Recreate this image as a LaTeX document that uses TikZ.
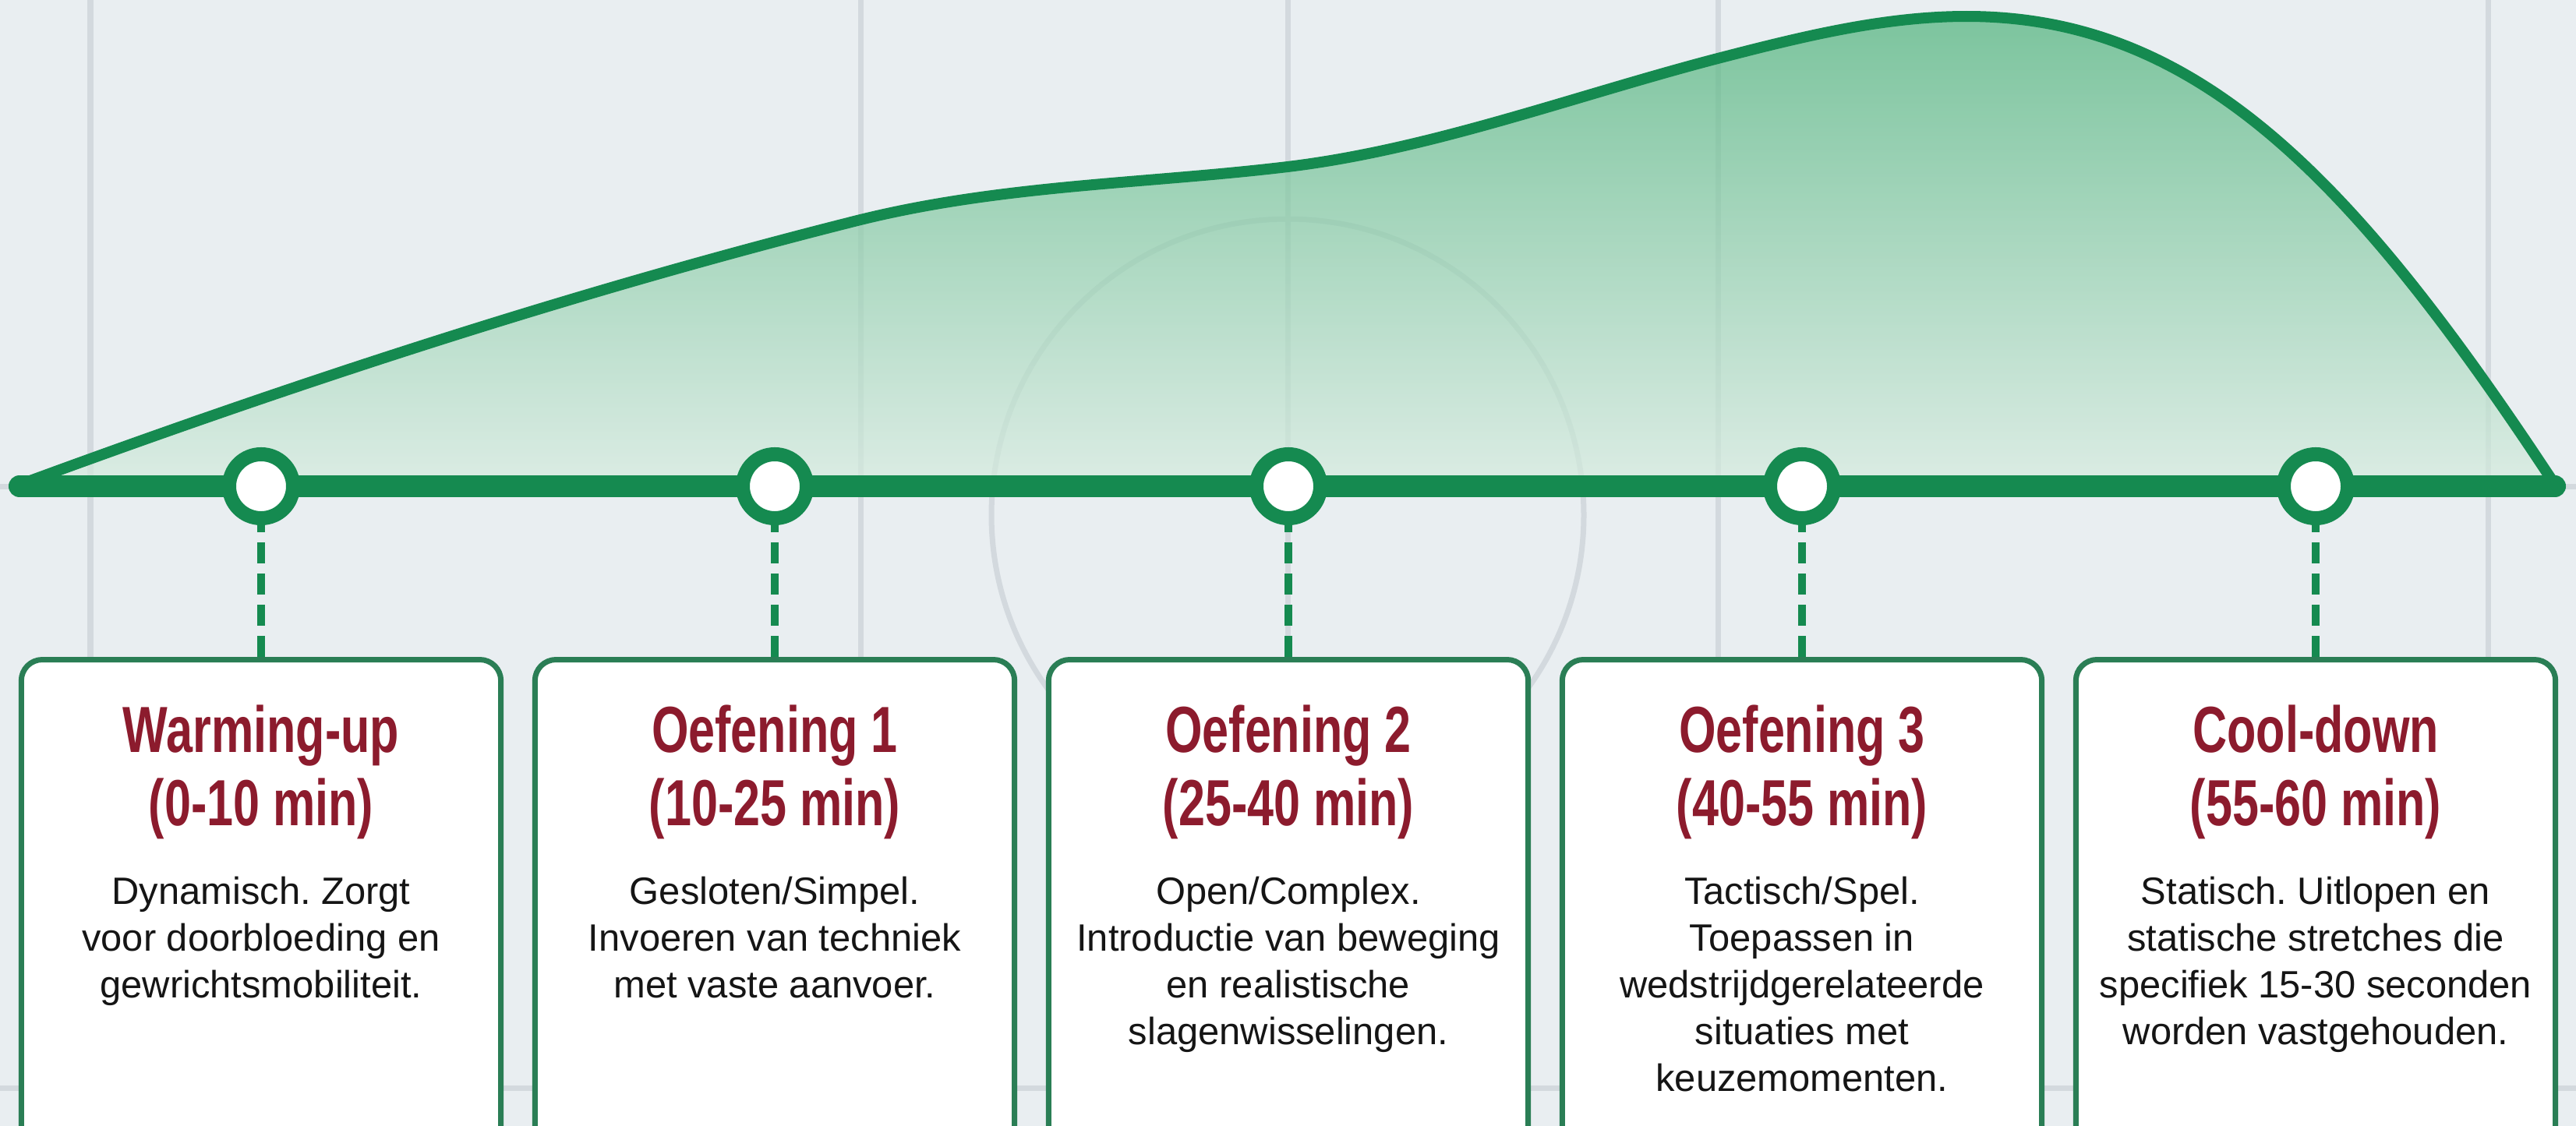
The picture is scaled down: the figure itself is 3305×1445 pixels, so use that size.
\documentclass[tikz,border=0pt]{standalone}
\usepackage{fontspec}
\setmainfont{Liberation Sans}
\newfontfamily\cardtitlefont[FakeStretch=0.73]{Liberation Sans}
\newfontfamily\cardbodyfont{Liberation Sans}
\frenchspacing

\definecolor{bgcolor}{HTML}{E9EEF1}
\definecolor{courtgray}{HTML}{D3D9DE}
\definecolor{trackgreen}{HTML}{158A50}
\definecolor{cardgreen}{HTML}{2A7E55}
\definecolor{titlered}{HTML}{8C1B2D}
\definecolor{bodyblack}{HTML}{151515}
\definecolor{loadtop}{HTML}{4EB37B}
\definecolor{loadbottom}{HTML}{D6ECDF}

% one phase of the session: card, title, description and its leader line
\newcommand\phasecard[5]{%
  \node[card] (card#1) at (#2,843) {};
  \node[cardtitle] (title#1) at (#2,965) {\parbox[t]{6cm}{\centering #3\\#4}};
  \node[cardtext] (text#1) at (#2,1160) {\parbox[t]{6cm}{\centering #5}};
  \draw[leader] (m#1.south) -- (card#1.north);
}

\begin{document}
\begin{tikzpicture}[x=0.01cm, y=-0.01cm,
  court/.style={draw=courtgray, line width=0.07cm},
  track/.style={draw=trackgreen, line width=0.28cm, line cap=round},
  milestone/.style={circle, draw=trackgreen, fill=white, line width=0.18cm,
    minimum size=0.82cm, inner sep=0pt},
  card/.style={draw=cardgreen, fill=white, line width=0.07cm,
    rounded corners=0.27cm, minimum width=6.15cm, minimum height=6.8cm,
    anchor=north, inner sep=0pt},
  leader/.style={draw=trackgreen, line width=0.1cm,
    dash pattern=on 0.27cm off 0.13cm, dash phase=0.18cm},
  cardtitle/.style={anchor=base, inner sep=0pt, text=titlered,
    font=\cardtitlefont\bfseries\fontsize{23.8pt}{27pt}\selectfont},
  cardtext/.style={anchor=base, inner sep=0pt, text=bodyblack,
    font=\cardbodyfont\fontsize{13.9pt}{17.07pt}\selectfont},
]
\useasboundingbox (0,0) rectangle (3305,1445);
\clip (0,0) rectangle (3305,1445);
\fill[bgcolor] (0,0) rectangle (3305,1445);

% faint court markings in the background
\foreach \cx in {116,1104,1652,2204,3192}
  \draw[court] (\cx,0) -- (\cx,1445);
\draw[court] (0,624) -- (3305,624);
\draw[court] (0,1396) -- (3305,1396);
\draw[court] (1652,661) circle[radius=380];

% training load curve
\shadedraw[top color=loadtop, bottom color=loadbottom, fill opacity=0.7,
  draw=trackgreen, line width=0.14cm, line join=round]
  (25,622) .. controls (383,490) and (742,373) .. (1100,283)
  .. controls (1284,237) and (1468,236) .. (1652,214)
  .. controls (1835,192) and (2017,124) .. (2200,76)
  .. controls (2308,48) and (2415,21) .. (2523,21)
  .. controls (2820,21) and (3020,230) .. (3278,622)
  -- cycle;

% time axis with milestones
\coordinate (tstart) at (25,624);
\coordinate (tend) at (3278,624);
\draw[track] (tstart) -- (tend);
\node[milestone] (m1) at (335,624) {};
\node[milestone] (m2) at (994,624) {};
\node[milestone] (m3) at (1653,624) {};
\node[milestone] (m4) at (2312,624) {};
\node[milestone] (m5) at (2971,624) {};

\phasecard{1}{335}{Warming-up}{(0-10 min)}
  {Dynamisch. Zorgt\\voor doorbloeding en\\gewrichtsmobiliteit.}
\phasecard{2}{994}{Oefening 1}{(10-25 min)}
  {Gesloten/Simpel.\\Invoeren van techniek\\met vaste aanvoer.}
\phasecard{3}{1653}{Oefening 2}{(25-40 min)}
  {Open/Complex.\\Introductie van beweging\\en realistische\\slagenwisselingen.}
\phasecard{4}{2312}{Oefening 3}{(40-55 min)}
  {Tactisch/Spel.\\Toepassen in\\wedstrijdgerelateerde\\situaties met\\keuzemomenten.}
\phasecard{5}{2971}{Cool-down}{(55-60 min)}
  {Statisch. Uitlopen en\\statische stretches die\\specifiek 15-30 seconden\\worden vastgehouden.}
\end{tikzpicture}
\end{document}
